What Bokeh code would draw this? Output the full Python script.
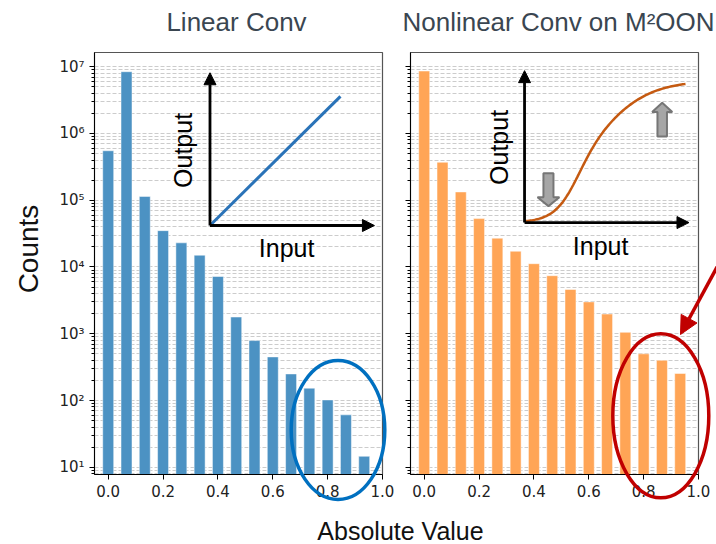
import numpy as np
from bokeh.plotting import figure
from bokeh.layouts import column, row
from bokeh.models import Range1d, LinearScale, FixedTicker, Arrow, NormalHead
from bokeh.core.properties import value
from bokeh.embed import file_html
from bokeh.resources import INLINE

# histogram bin centres (|value|, 15 bins of width 1/15)
bin_centers = [0.0, 0.0667, 0.1333, 0.2, 0.2667, 0.3333, 0.4, 0.4667,
               0.5333, 0.6, 0.6667, 0.7333, 0.8, 0.8667, 0.9333]
# counts per bin, linear convolution
linear_counts = [5.5e5, 8.4e6, 1.14e5, 3.5e4, 2.3e4, 1.5e4, 7.2e3, 1.78e3,
                 7.9e2, 4.5e2, 2.5e2, 1.53e2, 1.02e2, 61, 14.6]
# counts per bin, nonlinear convolution on M2OON
nonlinear_counts = [8.6e6, 3.7e5, 1.33e5, 5.3e4, 2.7e4, 1.72e4, 1.12e4, 7.4e3,
                    4.6e3, 3.0e3, 1.97e3, 1.05e3, 5.0e2, 4.0e2, 2.54e2]
x_tick_values = [0.0, 0.2, 0.4, 0.6, 0.8, 1.0]
y_major_ticks = [1e1, 1e2, 1e3, 1e4, 1e5, 1e6, 1e7]
y_tick_labels = ["10¹", "10²", "10³", "10⁴", "10⁵", "10⁶", "10⁷"]
panel_titles = ["Linear Conv", "Nonlinear Conv on M²OON"]

Y_RANGE = (7.8, 1.63e7)
X_RANGE = (-0.05, 1.0)
SANS = value("Liberation Sans")
TICK_FONT = "DejaVu Sans"
W, H = 716, 544

minor = []
for d in range(0, 8):
    for m in range(2, 10):
        v = m * 10.0 ** d
        if Y_RANGE[0] <= v <= Y_RANGE[1]:
            minor.append(v)


def make_panel(counts, color, width, border_left, border_right, show_labels):
    p = figure(width=width, height=H, y_axis_type="log",
               x_range=Range1d(*X_RANGE), y_range=Range1d(*Y_RANGE),
               output_backend="svg", toolbar_location=None,
               min_border_left=border_left, min_border_right=border_right,
               min_border_top=52, min_border_bottom=70)
    # unit square over the frame for the schematic inset
    p.extra_x_ranges = {"ux": Range1d(0, 1)}
    p.extra_y_ranges = {"uy": Range1d(0, 1)}
    p.extra_x_scales = {"ux": LinearScale()}
    p.extra_y_scales = {"uy": LinearScale()}

    p.outline_line_color = "#555555"
    p.outline_line_width = 1.2

    p.xgrid.visible = False
    p.ygrid.grid_line_color = "#cccccc"
    p.ygrid.grid_line_dash = "4 2"
    p.ygrid.minor_grid_line_color = "#cccccc"
    p.ygrid.minor_grid_line_dash = "4 2"

    p.yaxis.ticker = FixedTicker(ticks=y_major_ticks, minor_ticks=minor)
    p.xaxis.ticker = FixedTicker(ticks=x_tick_values)
    p.xaxis.major_label_overrides = {v: f"{v:.1f}" for v in x_tick_values}
    if show_labels:
        p.yaxis.major_label_overrides = dict(zip(y_major_ticks, y_tick_labels))
    else:
        p.yaxis.major_label_overrides = {v: "" for v in y_major_ticks}

    for ax in (p.xaxis[0], p.yaxis[0]):
        ax.axis_line_color = "black"
        ax.major_tick_line_color = "black"
        ax.minor_tick_line_color = "black"
        ax.major_tick_in = 0
        ax.major_tick_out = 5
        ax.minor_tick_in = 0
        ax.minor_tick_out = 3
        ax.major_label_text_font = TICK_FONT
        ax.major_label_text_font_size = "15px"
        ax.major_label_text_color = "#222222"
    p.xaxis.minor_tick_out = 0

    p.vbar(x=bin_centers, top=counts, bottom=1, width=0.04,
           fill_color=color, line_color="white", line_alpha=0.6, line_width=0.8)
    return p


def add_axes_sketch(p, ox, oy, top_y, right_x, out_xy, in_xy):
    head = dict(fill_color="black", line_color="black")
    p.add_layout(Arrow(end=NormalHead(size=12, **head), x_start=ox, y_start=oy,
                       x_end=ox, y_end=top_y, line_width=2.8,
                       x_range_name="ux", y_range_name="uy"))
    p.add_layout(Arrow(end=NormalHead(size=12, **head), x_start=ox, y_start=oy,
                       x_end=right_x, y_end=oy, line_width=2.8,
                       x_range_name="ux", y_range_name="uy"))
    p.text(x=[out_xy[0]], y=[out_xy[1]], text=["Output"], angle=np.pi / 2,
           text_font=SANS, text_font_size="25px", text_align="center",
           text_baseline="middle", x_range_name="ux", y_range_name="uy")
    p.text(x=[in_xy[0]], y=[in_xy[1]], text=["Input"],
           text_font=SANS, text_font_size="25px", text_align="center",
           text_baseline="middle", x_range_name="ux", y_range_name="uy")


def block_arrow(p, cx, base, head_base, tip, shaft_hw, head_hw):
    xs = [cx - shaft_hw, cx + shaft_hw, cx + shaft_hw, cx + head_hw, cx,
          cx - head_hw, cx - shaft_hw]
    ys = [base, base, head_base, head_base, tip, head_base, head_base]
    p.patch(xs, ys, fill_color="#a6a6a6", line_color="#767676", line_width=2,
            x_range_name="ux", y_range_name="uy")


# left panel: linear convolution
p1 = make_panel(linear_counts, "#4c92c3", 396, 94, 14, True)
add_axes_sketch(p1, 0.401, 0.590, 0.952, 0.972, (0.309, 0.768), (0.667, 0.536))
p1.line([0.401, 0.854], [0.590, 0.896], line_color="#2a73b8", line_width=3,
        x_range_name="ux", y_range_name="uy")

# right panel: nonlinear convolution
p2 = make_panel(nonlinear_counts, "#ffa556", 320, 14, 18, False)
add_axes_sketch(p2, 0.396, 0.597, 0.957, 0.967, (0.306, 0.775), (0.660, 0.541))
# saturating response curve
px = np.linspace(524, 685, 120)
s = 14 + 12 / (1 + np.exp(-(px - 590) / 15))
resp = 1 / (1 + np.exp(-(px - 590) / s))
p2.line((px - 410) / 288, 0.597 + resp * (0.934 - 0.597), line_color="#c55a11",
        line_width=2.5, x_range_name="ux", y_range_name="uy")
block_arrow(p2, 0.479, 0.714, 0.657, 0.636, 0.0174, 0.038)
block_arrow(p2, 0.874, 0.801, 0.859, 0.881, 0.0165, 0.035)

# transparent sheet over both panels (page pixels, y downwards) for the
# titles, shared labels and the highlight rings that cross the frames
ov = figure(width=W, height=H, x_range=Range1d(0, W), y_range=Range1d(H, 0),
            output_backend="svg", toolbar_location=None, min_border=0,
            outline_line_color=None, background_fill_color=None,
            border_fill_color=None, margin=(-H, 0, 0, 0))
ov.axis.visible = False
ov.grid.visible = False

ov.text(x=[236, 558], y=[21, 21], text=panel_titles, text_font=SANS,
        text_font_size="26px", text_align="center", text_baseline="middle",
        text_color="#3a4651")
ov.text(x=[28], y=[248.5], text=["Counts"], angle=np.pi / 2, text_font=SANS,
        text_font_size="28px", text_align="center", text_baseline="middle",
        text_color="#111111")
ov.text(x=[400], y=[530], text=["Absolute Value"], text_font=SANS,
        text_font_size="25px", text_align="center", text_baseline="middle",
        text_color="#111111")

ov.ellipse(x=[337.5], y=[429.5], width=[93.6], height=[139], fill_color=None,
           line_color="#0070c0", line_width=3.5)
ov.ellipse(x=[660.3], y=[415.3], width=[96], height=[164], fill_color=None,
           line_color="#c00000", line_width=3.5)
ov.add_layout(Arrow(end=NormalHead(size=18, fill_color="#c00000", line_color="#c00000"),
                    x_start=719, y_start=262, x_end=680, y_end=334,
                    line_color="#c00000", line_width=3.5))

layout = column(row(p1, p2), ov)
open("out.html", "w").write(file_html(layout, INLINE))
